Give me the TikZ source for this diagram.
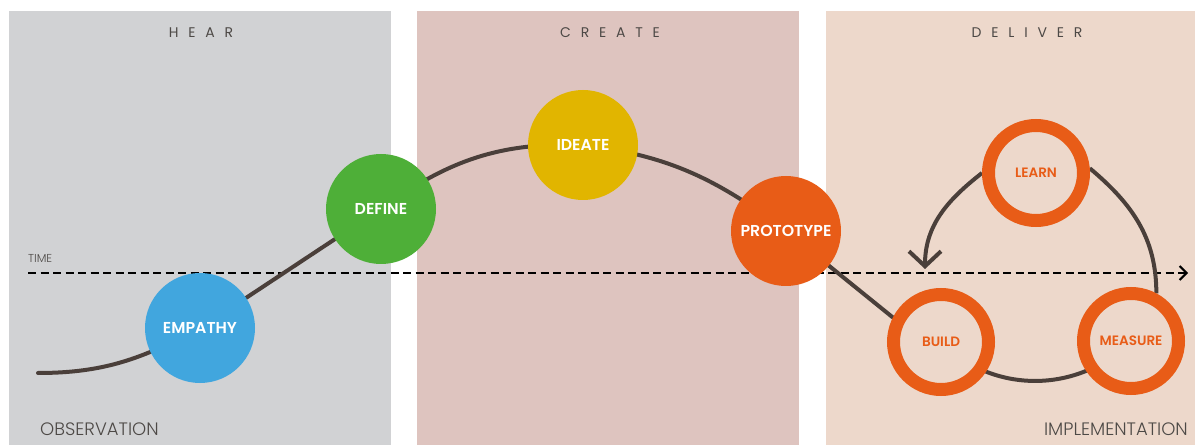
\documentclass[tikz,border=0pt]{standalone}
\usepackage{fontspec}
\setmainfont{Poppins}
\newfontfamily\labfont{Poppins}[UprightFont={* SemiBold}]
\newfontfamily\thinfont{Poppins}[UprightFont={* Light}]
\newfontfamily\spacedfont{Poppins}[LetterSpace=70]
\usetikzlibrary{arrows.meta}
\definecolor{panelgray}{HTML}{D1D2D4}
\definecolor{panelpink}{HTML}{DEC4BF}
\definecolor{panelbeige}{HTML}{EDD8CB}
\definecolor{textC}{HTML}{4D4946}
\definecolor{curveC}{HTML}{4A3F3A}
\definecolor{blueC}{HTML}{41A6DE}
\definecolor{greenC}{HTML}{4EAF38}
\definecolor{yellowC}{HTML}{E1B500}
\definecolor{orangeC}{HTML}{E85C17}
\pgfdeclarelayer{panels}
\pgfdeclarelayer{lines}
\pgfsetlayers{panels,lines,main}
\tikzset{
  title/.style={text=textC, anchor=base, font=\spacedfont\fontsize{14}{14}\selectfont},
  corner/.style={text=textC, inner sep=0pt, font=\thinfont\fontsize{18}{18}\selectfont},
  phase/.style={circle, minimum size=110pt, inner sep=0pt, text=white, font=\labfont\fontsize{15.8}{16}\selectfont},
  ring/.style={circle, draw=orangeC, line width=13pt, minimum size=95pt, inner sep=0pt, fill=panelbeige, text=orangeC, font=\labfont\fontsize{13.6}{14}\selectfont},
  curve/.style={draw=curveC, line width=4pt},
  timeline/.style={draw=black, line width=2pt, dash pattern=on 8pt off 4.5pt, -{Straight Barb[length=7pt,width=14pt,line width=2pt]}},
}
\begin{document}
\begin{tikzpicture}[x=1pt,y=1pt]
\useasboundingbox (0,0) rectangle (1195,445);
\begin{pgfonlayer}{panels}
  \fill[white] (0,0) rectangle (1195,445);
  \fill[panelgray] (9,0) rectangle (391,434);
  \fill[panelpink] (417,0) rectangle (799,434);
  \fill[panelbeige] (826,0) rectangle (1195,434);
\end{pgfonlayer}
% titles
\node[title] (hear) at (201,407) {HEAR};
\node[title] (create) at (610,407) {CREATE};
\node[title] (deliver) at (1027,407) {DELIVER};
\node[corner, anchor=base west] (obs) at (40,10) {OBSERVATION};
\node[corner, anchor=base east] (impl) at (1188,10) {IMPLEMENTATION};
\node[text=textC, inner sep=0pt, anchor=base west, font=\thinfont\fontsize{11.5}{12}\selectfont] (time) at (28,182) {TIME};
% phases
\node[phase, fill=blueC] (empathy) at (200,117) {EMPATHY};
\node[phase, fill=greenC] (define) at (381,236) {DEFINE};
\node[phase, fill=yellowC] (ideate) at (583,300) {IDEATE};
\node[phase, fill=orangeC] (prototype) at (786,214) {PROTOTYPE};
\node[ring] (learn) at (1036,272) {LEARN};
\node[ring] (build) at (941,103) {BUILD};
\node[ring] (measure) at (1131,104) {MEASURE};
\coordinate (start) at (38,72);
\coordinate (tstart) at (28,172);
\coordinate (tend) at (1188,172);
\coordinate (tip) at (925,176);
\begin{pgfonlayer}{lines}
  \draw[timeline] (tstart) -- (tend);
  \draw[curve, line cap=round] (start) to[out=0,in=208] (empathy.center)
     to[out=33,in=213] (define.center)
     to[out=36,in=178] (ideate.center)
     to[out=-7,in=143] (prototype.center)
     -- (build.153);
  \draw[curve] (build.center) to[out=-45,in=225] (measure.center);
  \draw[curve] (measure.62) to[out=90,in=-40] (learn.5);
  \draw[curve, -{Straight Barb[length=15pt,width=32pt,line width=4pt]}] (learn.west) to[out=218,in=90] (tip);
\end{pgfonlayer}
\end{tikzpicture}
\end{document}
